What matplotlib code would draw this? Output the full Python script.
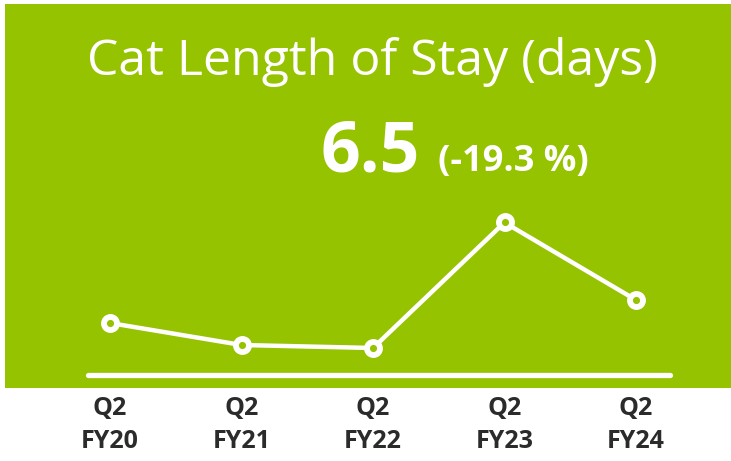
import matplotlib.pyplot as plt
from matplotlib.patches import Rectangle

# data
quarters = ["Q2\nFY20", "Q2\nFY21", "Q2\nFY22", "Q2\nFY23", "Q2\nFY24"]
los_days = [6.04, 5.60, 5.54, 8.05, 6.5]
latest = "6.5"
change = "(-19.3 %)"

green = "#96c300"
W, H = 731, 461

fig = plt.figure(figsize=(W / 100, H / 100), dpi=100)
fig.patch.set_facecolor("white")

# green panel behind the chart
fig.patches.append(Rectangle((5 / W, 1 - 388 / H), 1 - 5 / W, (388 - 4) / H,
                             transform=fig.transFigure, facecolor=green,
                             edgecolor="none", zorder=-5))

fig.text(372 / W, 1 - 62 / H, "Cat Length of Stay (days)", color="white",
         fontsize=36, family="Open Sans", ha="center", va="center")
fig.text(420 / W, 1 - 153 / H, latest, color="white", fontsize=50,
         family="Open Sans", weight="bold", ha="right", va="center")
fig.text(438 / W, 1 - 162 / H, change, color="white", fontsize=26,
         family="Open Sans", weight="bold", ha="left", va="center")

# axes: bottom at baseline (y=375px), x from 88 to 690 px
ax = fig.add_axes([88 / W, 1 - 375 / H, (690 - 88) / W, 175 / H])
ax.set_zorder(2)
ax.set_facecolor("none")
x = list(range(len(quarters)))
ax.axhline(5.0, xmin=0, xmax=(670 - 88) / 602, color="white", lw=3.8,
           solid_capstyle="round", clip_on=False)
ax.plot(x, los_days, color="white", lw=3.2, marker="o", ms=9.4,
        mfc=green, mec="white", mew=4.2, clip_on=False, zorder=3)
ax.set_xlim(-22 / 131.5, 580 / 131.5)
ax.set_ylim(5.0, 8.5)
for s in ax.spines.values():
    s.set_visible(False)
ax.set_yticks([])
ax.set_xticks(x)
ax.set_xticklabels(quarters, fontsize=18, family="Open Sans", weight="bold",
                   color="#2b2b2b", linespacing=1.45)
ax.tick_params(axis="x", length=0, pad=15)

fig.savefig("out.png", dpi=100)
